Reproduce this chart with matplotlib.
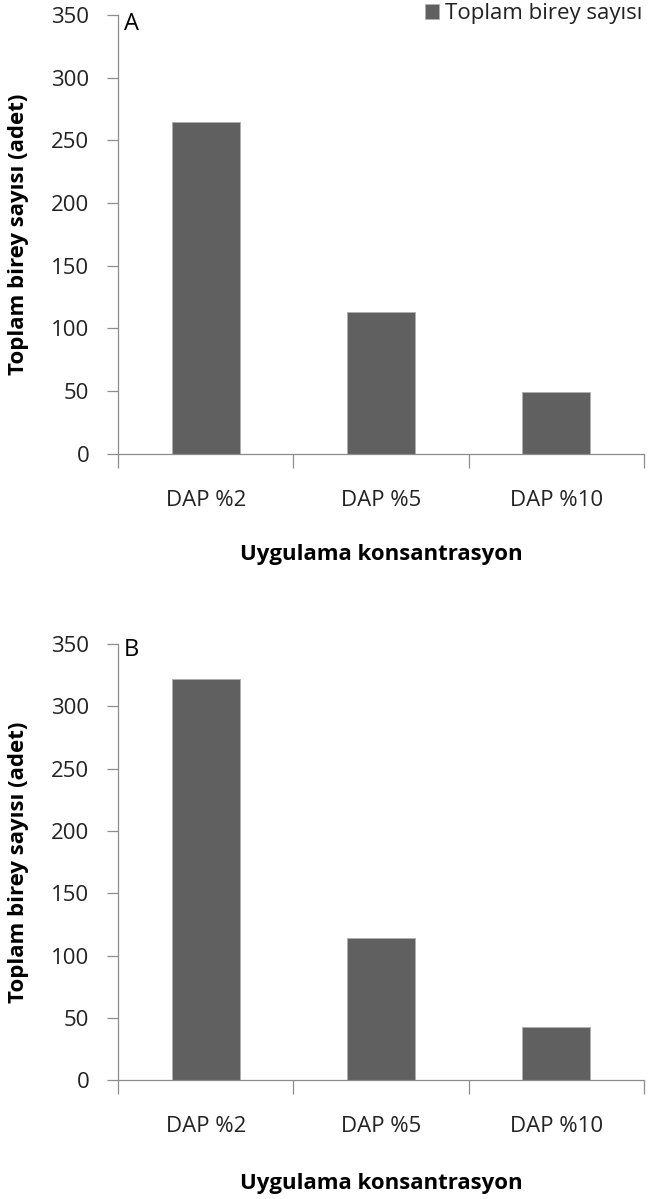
import matplotlib
matplotlib.use("Agg")
import matplotlib.pyplot as plt
from matplotlib.ticker import FixedLocator

plt.rcParams['font.family'] = ['Open Sans', 'DejaVu Sans']

categories = ["DAP %2", "DAP %5", "DAP %10"]
values_a = [265, 113, 49]
values_b = [322, 114, 43]
yticks = [0, 50, 100, 150, 200, 250, 300, 350]
panel_labels = ["A", "B"]
legend_label = "Toplam birey sayısı"
ylabel = "Toplam birey sayısı (adet)"
xlabel = "Uygulama konsantrasyon"

W, H = 655, 1199
fig = plt.figure(figsize=(W / 100, H / 100), dpi=100)

axes_px = [(118.3, 15, 643.7, 453.7), (118.3, 644, 643.7, 1080.2)]
xlabel_top = [544, 1173]
panel_baseline = [30, 656]
bar_color = "#606060"
spine_color = "#8c8c8c"

for i, (vals, (l, t, r, b)) in enumerate(zip([values_a, values_b], axes_px)):
    ax = fig.add_axes([l / W, 1 - b / H, (r - l) / W, (b - t) / H])
    x = list(range(len(categories)))
    ax.bar(x, vals, width=0.39, color=bar_color, edgecolor="#b0b0b0",
           linewidth=0.7, label=legend_label, zorder=2)
    ax.set_xlim(-0.5, len(categories) - 0.5)
    ax.set_ylim(0, 350)
    ax.set_yticks(yticks)
    ax.tick_params(axis='y', direction='out', length=8, width=0.9,
                   color=spine_color, labelsize=16, pad=13, labelcolor="#222222")
    ax.xaxis.set_major_locator(FixedLocator([k - 0.5 for k in range(len(categories) + 1)]))
    ax.xaxis.set_minor_locator(FixedLocator(x))
    ax.set_xticklabels([], minor=False)
    ax.set_xticklabels(categories, minor=True)
    ax.tick_params(axis='x', which='major', direction='out', length=10, width=0.9,
                   color=spine_color)
    ax.tick_params(axis='x', which='minor', length=0, labelsize=16, pad=26,
                   labelcolor="#222222")
    for s in ['top', 'right']:
        ax.spines[s].set_visible(False)
    for s in ['left', 'bottom']:
        ax.spines[s].set_color(spine_color)
        ax.spines[s].set_linewidth(0.9)
    ax.set_ylabel(ylabel, fontsize=16, fontweight='bold')
    ax.yaxis.set_label_coords((29 - l) / (r - l), 0.5)
    ax.set_xlabel(xlabel, fontsize=16, fontweight='bold')
    ax.xaxis.set_label_coords(0.5, (b - xlabel_top[i]) / (b - t))
    ax.text((124 - l) / (r - l), (b - panel_baseline[i]) / (b - t), panel_labels[i],
            transform=ax.transAxes, fontsize=17, va='baseline', ha='left')
    if i == 0:
        ax.legend(loc='upper left', bbox_to_anchor=(425 / W, 1 - 3 / H),
                  bbox_transform=fig.transFigure, frameon=False, fontsize=16,
                  handlelength=0.65, handleheight=0.65, handletextpad=0.25,
                  borderaxespad=0, borderpad=0, labelcolor="#222222")

fig.savefig("out.png", dpi=100)
